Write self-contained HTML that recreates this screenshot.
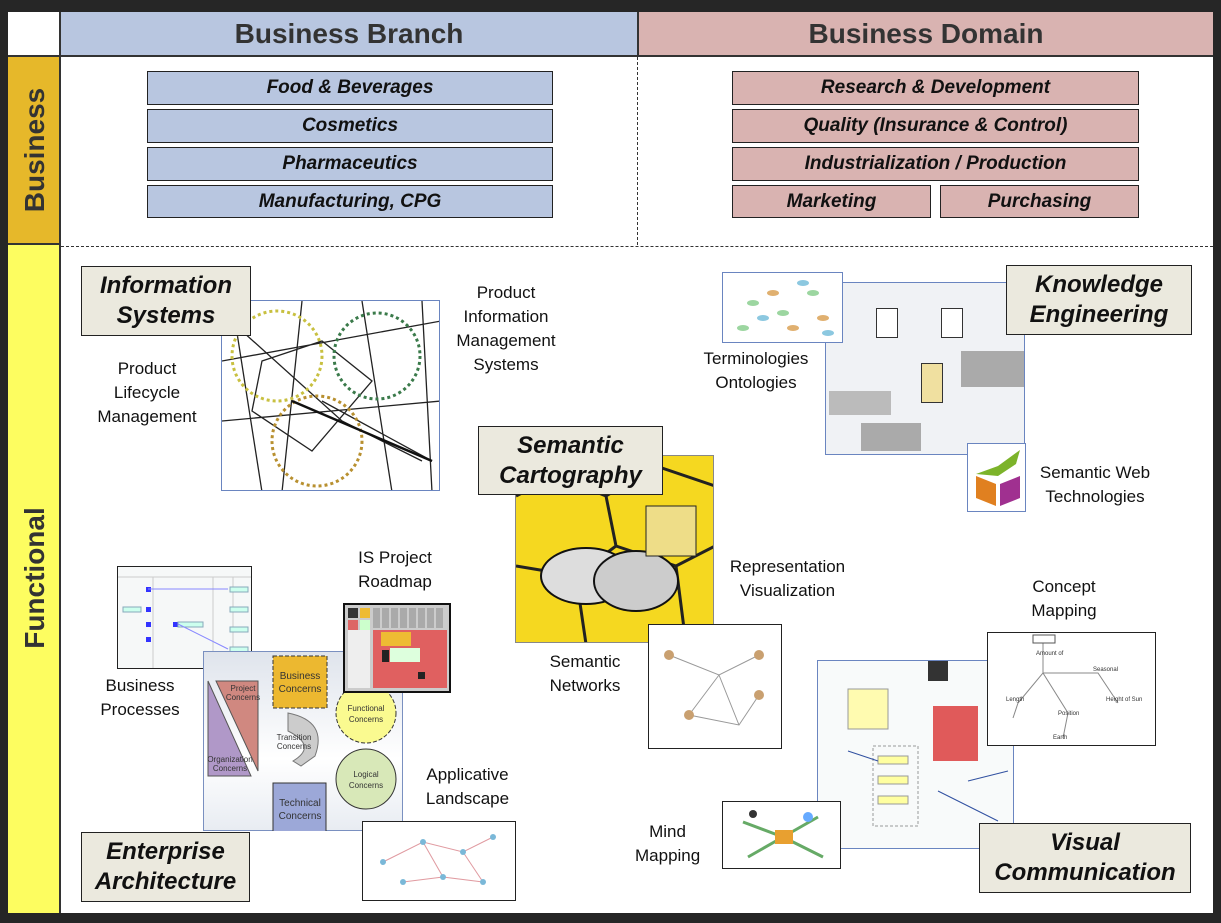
<!DOCTYPE html>
<html><head><meta charset="utf-8"><style>
*{margin:0;padding:0;box-sizing:border-box}
body{width:1221px;height:923px;background:#262626;position:relative;overflow:hidden;font-family:"Liberation Sans",sans-serif}
.a{position:absolute}
.hd{font-weight:bold;font-size:28px;color:#333;display:flex;align-items:center;justify-content:center}
.bb{position:absolute;border:1.5px solid #222;display:flex;align-items:center;justify-content:center;font-weight:bold;font-style:italic;font-size:19px;color:#111}
.bl{background:#b8c6e0}.pk{background:#d9b3b1}
.tt{position:absolute;background:#ebe9de;border:1.5px solid #222;font-weight:bold;font-style:italic;font-size:24px;line-height:30px;text-align:center;display:flex;align-items:center;justify-content:center;color:#111}
.lb{position:absolute;font-size:17px;line-height:24px;text-align:center;color:#111;white-space:nowrap}
.im{position:absolute;border:1px solid #6a85c0;background:#fff;overflow:hidden}
.vt{position:absolute;transform:rotate(-90deg);font-weight:bold;font-size:28px;color:#333;white-space:nowrap}
</style></head><body>
<div class="a" style="left:8px;top:12px;width:1205px;height:901px;background:#fff"></div>
<div class="a" style="left:8px;top:12px;width:53px;height:45px;background:#fff;border-right:2px solid #333;border-bottom:2px solid #333"></div>
<div class="a hd" style="left:61px;top:12px;width:576px;height:45px;background:#b8c6e0;border-bottom:2px solid #333">Business Branch</div>
<div class="a hd" style="left:637px;top:12px;width:576px;height:45px;background:#d9b3b1;border-left:2px solid #333;border-bottom:2px solid #333">Business Domain</div>
<div class="a" style="left:8px;top:57px;width:53px;height:188px;background:#e6b82a;border-right:2px solid #333;border-bottom:2px solid #333"></div>
<div class="vt" style="left:-30px;top:134px;width:130px;text-align:center">Business</div>
<div class="a" style="left:8px;top:245px;width:53px;height:668px;background:#fdfd60;border-right:2px solid #333"></div>
<div class="vt" style="left:-45px;top:562px;width:160px;text-align:center">Functional</div>
<div class="a" style="left:637px;top:57px;height:188px;border-left:1px dashed #333"></div>
<div class="a" style="left:61px;top:246px;width:1152px;border-top:1px dashed #333"></div>

<div class="bb bl" style="left:147px;top:71px;width:406px;height:34px">Food &amp; Beverages</div>
<div class="bb bl" style="left:147px;top:109px;width:406px;height:34px">Cosmetics</div>
<div class="bb bl" style="left:147px;top:147px;width:406px;height:34px">Pharmaceutics</div>
<div class="bb bl" style="left:147px;top:185px;width:406px;height:33px">Manufacturing, CPG</div>
<div class="bb pk" style="left:732px;top:71px;width:407px;height:34px">Research &amp; Development</div>
<div class="bb pk" style="left:732px;top:109px;width:407px;height:34px">Quality (Insurance &amp; Control)</div>
<div class="bb pk" style="left:732px;top:147px;width:407px;height:34px">Industrialization / Production</div>
<div class="bb pk" style="left:732px;top:185px;width:199px;height:33px">Marketing</div>
<div class="bb pk" style="left:940px;top:185px;width:199px;height:33px">Purchasing</div>

<!-- IS image -->
<div class="im" style="left:221px;top:300px;width:219px;height:191px">
<svg width="219" height="191"><g fill="none" stroke="#222" stroke-width="1.3">
<path d="M10 0 L40 191 M80 0 L60 191 M140 0 L170 191 M200 0 L210 191 M0 60 L219 20 M0 120 L219 100 M20 30 L120 120 L200 160 M40 60 L100 40 L150 80 L90 150 L30 110 Z M100 100 L210 160"/></g>
<circle cx="55" cy="55" r="45" fill="none" stroke="#c8c040" stroke-width="3" stroke-dasharray="3 3"/>
<circle cx="155" cy="55" r="43" fill="none" stroke="#3a7a4a" stroke-width="3" stroke-dasharray="3 3"/>
<circle cx="95" cy="140" r="45" fill="none" stroke="#b89030" stroke-width="3" stroke-dasharray="3 3"/>
<path d="M70 100 L210 160" stroke="#111" stroke-width="2.5"/></svg></div>
<div class="tt" style="left:81px;top:266px;width:170px;height:70px">Information<br>Systems</div>
<div class="lb" style="left:82px;top:357px;width:130px">Product<br>Lifecycle<br>Management</div>
<div class="lb" style="left:440px;top:281px;width:132px">Product<br>Information<br>Management<br>Systems</div>

<!-- Knowledge -->
<div class="im" style="left:825px;top:282px;width:200px;height:173px;background:#f0f2f5">
<div class="a" style="left:50px;top:25px;width:22px;height:30px;border:1px solid #333;background:#fff"></div>
<div class="a" style="left:115px;top:25px;width:22px;height:30px;border:1px solid #333;background:#fff"></div>
<div class="a" style="left:95px;top:80px;width:22px;height:40px;border:1px solid #333;background:#f0e0a0"></div>
<div class="a" style="left:3px;top:108px;width:62px;height:24px;background:#bbb"></div>
<div class="a" style="left:135px;top:68px;width:70px;height:36px;background:#aaa"></div>
<div class="a" style="left:35px;top:140px;width:60px;height:28px;background:#aaa"></div>
</div>
<div class="im" style="left:722px;top:272px;width:121px;height:71px">
<svg width="121" height="71"><g fill="#9cd6a0"><ellipse cx="30" cy="30" rx="6" ry="3"/><ellipse cx="60" cy="40" rx="6" ry="3"/><ellipse cx="90" cy="20" rx="6" ry="3"/><ellipse cx="20" cy="55" rx="6" ry="3"/></g><g fill="#e0b070"><ellipse cx="50" cy="20" rx="6" ry="3"/><ellipse cx="70" cy="55" rx="6" ry="3"/><ellipse cx="100" cy="45" rx="6" ry="3"/></g><g fill="#8cc8e0"><ellipse cx="40" cy="45" rx="6" ry="3"/><ellipse cx="80" cy="10" rx="6" ry="3"/><ellipse cx="105" cy="60" rx="6" ry="3"/></g></svg></div>
<div class="tt" style="left:1006px;top:265px;width:186px;height:70px">Knowledge<br>Engineering</div>
<div class="lb" style="left:690px;top:347px;width:132px">Terminologies<br>Ontologies</div>
<div class="im" style="left:967px;top:443px;width:59px;height:69px">
<svg width="59" height="69"><path d="M8 30 L30 22 L52 6 L48 20 L30 32 Z" fill="#7cb32a"/><path d="M8 32 L28 40 L28 62 L8 54 Z" fill="#e08020"/><path d="M32 40 L52 32 L52 54 L32 62 Z" fill="#a03090"/></svg></div>
<div class="lb" style="left:1030px;top:461px;width:130px">Semantic Web<br>Technologies</div>

<!-- bees -->
<div class="im" style="left:515px;top:455px;width:199px;height:188px;background:#f5d820;border-color:#888">
<svg width="199" height="188"><g fill="none" stroke="#222" stroke-width="3"><path d="M0 40 L40 20 L90 40 L140 10 L199 30 M40 20 L40 0 M90 40 L100 90 L60 120 L0 110 M100 90 L160 110 L199 90 M160 110 L170 188 M60 120 L70 188"/></g>
<ellipse cx="70" cy="120" rx="45" ry="28" fill="#ddd" stroke="#111" stroke-width="2"/>
<ellipse cx="120" cy="125" rx="42" ry="30" fill="#ccc" stroke="#111" stroke-width="2"/>
<rect x="130" y="50" width="50" height="50" fill="#eedd88" stroke="#222"/></svg></div>
<div class="tt" style="left:478px;top:426px;width:185px;height:69px">Semantic<br>Cartography</div>
<div class="lb" style="left:720px;top:555px;width:135px">Representation<br>Visualization</div>
<div class="im" style="left:648px;top:624px;width:134px;height:125px;border-color:#222">
<svg width="134" height="125"><g stroke="#999" fill="none"><path d="M20 30 L70 50 L110 30 M70 50 L40 90 L90 100 L110 70 M70 50 L90 100"/></g><g fill="#c9a070"><circle cx="20" cy="30" r="5"/><circle cx="110" cy="30" r="5"/><circle cx="40" cy="90" r="5"/><circle cx="110" cy="70" r="5"/></g></svg></div>
<div class="lb" style="left:540px;top:650px;width:90px">Semantic<br>Networks</div>

<!-- BP -->
<div class="im" style="left:117px;top:566px;width:135px;height:103px;border-color:#222;background:#f6f8f8">
<svg width="135" height="103"><g stroke="#ccc"><path d="M35 10 V103 M95 10 V103 M115 10 V103 M0 10 H135"/></g><g fill="#33f"><rect x="28" y="20" width="5" height="5"/><rect x="28" y="40" width="5" height="5"/><rect x="28" y="55" width="5" height="5"/><rect x="28" y="70" width="5" height="5"/><rect x="55" y="55" width="5" height="5"/></g><g fill="#cfe" stroke="#8ab"><rect x="5" y="40" width="18" height="5"/><rect x="60" y="55" width="25" height="5"/><rect x="112" y="20" width="18" height="5"/><rect x="112" y="40" width="18" height="5"/><rect x="112" y="60" width="18" height="5"/><rect x="112" y="80" width="18" height="5"/></g><path d="M30 22 L110 22 M60 57 L110 82" stroke="#88f" fill="none"/></svg></div>
<div class="lb" style="left:90px;top:674px;width:100px">Business<br>Processes</div>
<div class="lb" style="left:340px;top:546px;width:110px">IS Project<br>Roadmap</div>

<!-- EA -->
<div class="a" style="left:203px;top:651px;width:200px;height:180px;border:1px solid #7a90c0;background:linear-gradient(#dfe4ec,#fff 60%,#e8ecf2)"></div>
<svg class="a" style="left:203px;top:651px" width="200" height="180">
<polygon points="5,30 5,125 48,125" fill="#b098c8" stroke="#555"/>
<polygon points="13,30 55,30 55,120" fill="#d08880" stroke="#555"/>
<text x="40" y="40" font-size="8" font-family="Liberation Sans" fill="#333" text-anchor="middle">Project</text><text x="40" y="49" font-size="8" font-family="Liberation Sans" fill="#333" text-anchor="middle">Concerns</text>
<text x="27" y="111" font-size="8" font-family="Liberation Sans" fill="#333" text-anchor="middle">Organization</text><text x="27" y="120" font-size="8" font-family="Liberation Sans" fill="#333" text-anchor="middle">Concerns</text>
<rect x="70" y="5" width="54" height="52" fill="#ecb830" stroke="#333" stroke-dasharray="4 2"/>
<text x="97" y="28" font-size="10" font-family="Liberation Sans" fill="#333" text-anchor="middle">Business</text><text x="97" y="41" font-size="10" font-family="Liberation Sans" fill="#333" text-anchor="middle">Concerns</text>
<path d="M85 62 Q125 70 112 105 L98 115 L90 110 Q115 95 85 80 Z" fill="#ccc" stroke="#777"/>
<text x="91" y="89" font-size="8" font-family="Liberation Sans" fill="#333" text-anchor="middle">Transition</text><text x="91" y="98" font-size="8" font-family="Liberation Sans" fill="#333" text-anchor="middle">Concerns</text>
<rect x="70" y="132" width="53" height="52" fill="#9ca8d8" stroke="#333"/>
<text x="97" y="155" font-size="10" font-family="Liberation Sans" fill="#333" text-anchor="middle">Technical</text><text x="97" y="168" font-size="10" font-family="Liberation Sans" fill="#333" text-anchor="middle">Concerns</text>
<circle cx="163" cy="62" r="30" fill="#fafa90" stroke="#333" stroke-dasharray="4 2"/>
<text x="163" y="60" font-size="8" font-family="Liberation Sans" fill="#333" text-anchor="middle">Functional</text><text x="163" y="71" font-size="8" font-family="Liberation Sans" fill="#333" text-anchor="middle">Concerns</text>
<circle cx="163" cy="128" r="30" fill="#d8e8b8" stroke="#333"/>
<text x="163" y="126" font-size="8" font-family="Liberation Sans" fill="#333" text-anchor="middle">Logical</text><text x="163" y="137" font-size="8" font-family="Liberation Sans" fill="#333" text-anchor="middle">Concerns</text>
</svg>
<div class="im" style="left:343px;top:603px;width:108px;height:90px;border:2px solid #111;background:#ccc">
<svg width="104" height="86"><rect x="3" y="3" width="10" height="10" fill="#333"/><rect x="15" y="3" width="10" height="10" fill="#eb3"/><rect x="3" y="15" width="10" height="10" fill="#d66"/><rect x="15" y="15" width="10" height="10" fill="#cfc"/>
<g fill="#aaa"><rect x="28" y="3" width="7" height="20"/><rect x="37" y="3" width="7" height="20"/><rect x="46" y="3" width="7" height="20"/><rect x="55" y="3" width="7" height="20"/><rect x="64" y="3" width="7" height="20"/><rect x="73" y="3" width="7" height="20"/><rect x="82" y="3" width="7" height="20"/><rect x="91" y="3" width="7" height="20"/></g>
<rect x="28" y="25" width="74" height="58" fill="#e06060"/><rect x="36" y="27" width="30" height="14" fill="#eb3"/><rect x="45" y="43" width="30" height="14" fill="#dfd"/><rect x="37" y="45" width="7" height="12" fill="#222"/><rect x="73" y="67" width="7" height="7" fill="#222"/><rect x="3" y="25" width="22" height="58" fill="#eee"/></svg></div>
<div class="tt" style="left:81px;top:832px;width:169px;height:70px">Enterprise<br>Architecture</div>
<div class="lb" style="left:415px;top:763px;width:105px">Applicative<br>Landscape</div>
<div class="im" style="left:362px;top:821px;width:154px;height:80px;border-color:#222">
<svg width="154" height="80"><g stroke="#e09aa0" fill="none"><path d="M20 40 L60 20 L100 30 L130 15 M60 20 L80 55 L120 60 M40 60 L80 55 M100 30 L120 60"/></g><g fill="#7ab8d8"><circle cx="20" cy="40" r="3"/><circle cx="60" cy="20" r="3"/><circle cx="100" cy="30" r="3"/><circle cx="130" cy="15" r="3"/><circle cx="80" cy="55" r="3"/><circle cx="120" cy="60" r="3"/><circle cx="40" cy="60" r="3"/></g></svg></div>

<!-- Visual -->
<div class="lb" style="left:1010px;top:575px;width:108px">Concept<br>Mapping</div>
<div class="im" style="left:817px;top:660px;width:197px;height:189px;background:#f8fafa">
<svg width="197" height="189"><rect x="30" y="28" width="40" height="40" fill="#fffbb0" stroke="#999"/><rect x="115" y="45" width="45" height="55" fill="#e05a5a"/><rect x="55" y="85" width="45" height="80" fill="none" stroke="#999" stroke-dasharray="3 2"/><g fill="#ffffa0" stroke="#999"><rect x="60" y="95" width="30" height="8"/><rect x="60" y="115" width="30" height="8"/><rect x="60" y="135" width="30" height="8"/></g><path d="M30 90 L60 100 M120 130 L180 160 M150 120 L190 110" stroke="#3050a0"/><rect x="110" y="0" width="20" height="20" fill="#333"/></svg></div>
<div class="im" style="left:987px;top:632px;width:169px;height:114px;border-color:#222">
<svg width="169" height="114"><g stroke="#888" fill="none"><path d="M55 8 L55 40 L30 70 M55 40 L110 40 L130 70 M55 40 L80 80 L75 105 M30 70 L25 85"/></g><g font-size="6" font-family="Liberation Sans" fill="#333"><rect x="45" y="2" width="22" height="8" fill="#fff" stroke="#555"/><text x="48" y="22">Amount of</text><text x="105" y="38">Seasonal</text><text x="18" y="68">Length</text><text x="118" y="68">Height of Sun</text><text x="70" y="82">Position</text><text x="65" y="106">Earth</text></g></svg></div>
<div class="im" style="left:722px;top:801px;width:119px;height:68px;border-color:#222">
<svg width="119" height="68"><g stroke="#6a6" stroke-width="3" fill="none"><path d="M60 35 L20 20 M60 35 L25 55 M60 35 L95 15 M60 35 L100 55"/></g><rect x="52" y="28" width="18" height="14" fill="#e8a030"/><circle cx="85" cy="15" r="5" fill="#6af"/><circle cx="30" cy="12" r="4" fill="#333"/></svg></div>
<div class="lb" style="left:635px;top:820px;width:65px">Mind<br>Mapping</div>
<div class="tt" style="left:979px;top:823px;width:212px;height:70px">Visual<br>Communication</div>
</body></html>
